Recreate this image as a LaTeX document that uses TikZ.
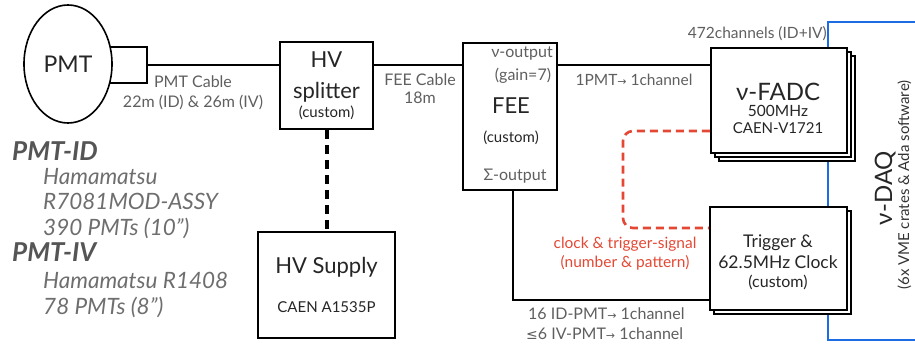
\documentclass[tikz,border=0pt]{standalone}
\usepackage{fontspec}
\setmainfont{Lato}
\newfontfamily\symfont{DejaVu Sans}
\usetikzlibrary{shadows,shapes.geometric}
\definecolor{labelgray}{RGB}{95,95,95}
\definecolor{notegray}{RGB}{110,110,110}
\definecolor{headgray}{RGB}{85,85,85}
\definecolor{sigred}{RGB}{228,72,52}
\definecolor{daqblue}{RGB}{28,108,228}
\newcommand{\fsz}[1]{\fontsize{#1}{#1}\selectfont}
\newcommand{\toarrow}{{\symfont\fsz{11}→}}

\begin{document}
\begin{tikzpicture}[x=1pt, y=-1pt,
  box/.style={draw, line width=2.4pt, fill=white, inner sep=0pt},
  stack1/.style={copy shadow={shadow xshift=4pt, shadow yshift=-4pt, line width=2.4pt}},
  stack2/.style={double copy shadow={shadow xshift=4pt, shadow yshift=-4pt, line width=2.4pt}},
  boxtxt/.style={anchor=base, inner sep=0pt, text=black!85},
  cable/.style={line width=1.6pt},
  lbl/.style={anchor=base, inner sep=0pt, text=labelgray, font=\fsz{15.5}},
  note/.style={anchor=base west, inner sep=0pt, text=notegray, font=\fsz{22.5}\itshape},
  head/.style={anchor=base west, inner sep=0pt, text=headgray, font=\fsz{26}\bfseries\itshape}
]
  \useasboundingbox (0,0) rectangle (915,345);

  % v-DAQ bracket (behind the boxes)
  \coordinate (daqtop) at (915,22);
  \coordinate (daqtl) at (828,22);
  \coordinate (daqbl) at (828,340);
  \coordinate (daqbot) at (915,340);
  \draw[daqblue, line width=2.4pt] (daqtop) -- (daqtl) -- (daqbl) -- (daqbot);

  % PMT with its cable stub
  \node[draw, line width=2.6pt, minimum width=37pt, minimum height=36pt, inner sep=0pt] (stub) at (128.5,65) {};
  \node[draw, line width=1.6pt, fill=white, ellipse, minimum width=88pt, minimum height=118pt, inner sep=0pt, font=\fsz{23}, text=black!85] (pmt) at (68,64) {PMT};

  % boxes
  \node[box, minimum width=93pt, minimum height=87pt] (splitter) at (326.5,85.5) {};
  \node[box, minimum width=137pt, minimum height=106pt] (supply) at (326.5,285) {};
  \node[box, minimum width=94pt, minimum height=147pt] (fee) at (510,116.5) {};
  \node[box, stack2, minimum width=136pt, minimum height=105pt] (fadc) at (779,100.5) {};
  \node[box, stack1, minimum width=137pt, minimum height=103pt] (trig) at (778.5,258.5) {};

  % box texts
  \node[boxtxt, font=\fsz{22}] (splitter1) at (326.5,67) {HV};
  \node[boxtxt, font=\fsz{22}] (splitter2) at (326.5,98) {splitter};
  \node[boxtxt, font=\fsz{15}] (splitter3) at (326.5,117) {(custom)};
  \node[boxtxt, font=\fsz{22}] (supply1) at (326.5,273) {HV Supply};
  \node[boxtxt, font=\fsz{15}] (supply2) at (326.5,312) {CAEN A1535P};
  \node[boxtxt, font=\fsz{22}] (fee1) at (511,113) {FEE};
  \node[boxtxt, font=\fsz{15}] (fee2) at (511,142) {(custom)};
  \node[boxtxt, font=\fsz{24}] (fadc1) at (778,100) {ν-FADC};
  \node[boxtxt, font=\fsz{15.5}] (fadc2) at (778,116) {500MHz};
  \node[boxtxt, font=\fsz{15}] (fadc3) at (778,133) {CAEN-V1721};
  \node[boxtxt, font=\fsz{17.5}] (trig1) at (778,247) {Trigger \&};
  \node[boxtxt, font=\fsz{17.5}] (trig2) at (778,268) {62.5MHz Clock};
  \node[boxtxt, font=\fsz{16}] (trig3) at (778,287) {(custom)};

  % FEE outputs
  \node[lbl, font=\fsz{16}] (nuout) at (522,58) {ν-output};
  \node[lbl, font=\fsz{16}] (gain) at (523,80) {(gain=7)};
  \node[lbl, font=\fsz{16}] (sigmaout) at (515,180) {Σ-output};

  % cables
  \draw[cable] (stub.east) -- (splitter.west |- stub.east);
  \draw[cable] (splitter.east |- stub.east) -- (fee.west |- stub.east);
  \draw[cable] (fee.east |- stub.east) -- (fadc.west |- stub.east);
  \coordinate (sumbend) at (513,300);
  \draw[cable] (fee.south -| sumbend) -- (sumbend) -- (trig.west |- sumbend);
  \draw[line width=4pt, dash pattern=on 9pt off 6pt] (splitter.south) -- (supply.north);

  % clock & trigger signal
  \coordinate (clk1) at (623,131);
  \coordinate (clk2) at (623,228);
  \draw[sigred, line width=2.6pt, dash pattern=on 8pt off 5pt, rounded corners=10pt]
    (fadc.west |- clk1) -- (clk1) -- (clk2) -- (trig.west |- clk2);

  % cable labels
  \node[lbl, font=\fsz{16}] (pmtcable1) at (193,88) {PMT Cable};
  \node[lbl, font=\fsz{16}] (pmtcable2) at (193,107) {22m (ID) \& 26m (IV)};
  \node[lbl, font=\fsz{16}] (feecable1) at (420,85) {FEE Cable};
  \node[lbl, font=\fsz{16}] (feecable2) at (420,103) {18m};
  \node[lbl] (onech) at (634,85) {1PMT\toarrow\ 1channel};
  \node[lbl, anchor=base east] (allch) at (827,38) {472channels (ID+IV)};
  \node[lbl, text=sigred] (clklbl1) at (625,248) {clock \& trigger-signal};
  \node[lbl, text=sigred] (clklbl2) at (625,267) {(number \& pattern)};
  \node[lbl, anchor=base west, font=\fsz{16}] (sumlbl1) at (528,319) {16 ID-PMT\toarrow\ 1channel};
  \node[lbl, anchor=base west, font=\fsz{16}] (sumlbl2) at (526,339) {{\symfont\fsz{14}≤}6 IV-PMT\toarrow\ 1channel};

  % v-DAQ
  \node[rotate=90, anchor=base, inner sep=0pt, font=\fsz{24}, text=black!85] (daq) at (892,188) {ν-DAQ};
  \node[rotate=90, anchor=base, inner sep=0pt, font=\fsz{15}, text=black!80] (daqsw) at (909,185) {(6x VME crates \& Ada software)};

  % PMT types
  \node[head] (pmtid) at (12,160) {PMT-ID};
  \node[note] (idmaker) at (43,184) {Hamamatsu};
  \node[note] (idtype) at (43,209) {R7081MOD-ASSY};
  \node[note] (idnum) at (43,235) {390 PMTs (10”)};
  \node[head] (pmtiv) at (12,261) {PMT-IV};
  \node[note] (ivtype) at (43,288) {Hamamatsu R1408};
  \node[note] (ivnum) at (43,314) {78 PMTs (8”)};
\end{tikzpicture}
\end{document}
